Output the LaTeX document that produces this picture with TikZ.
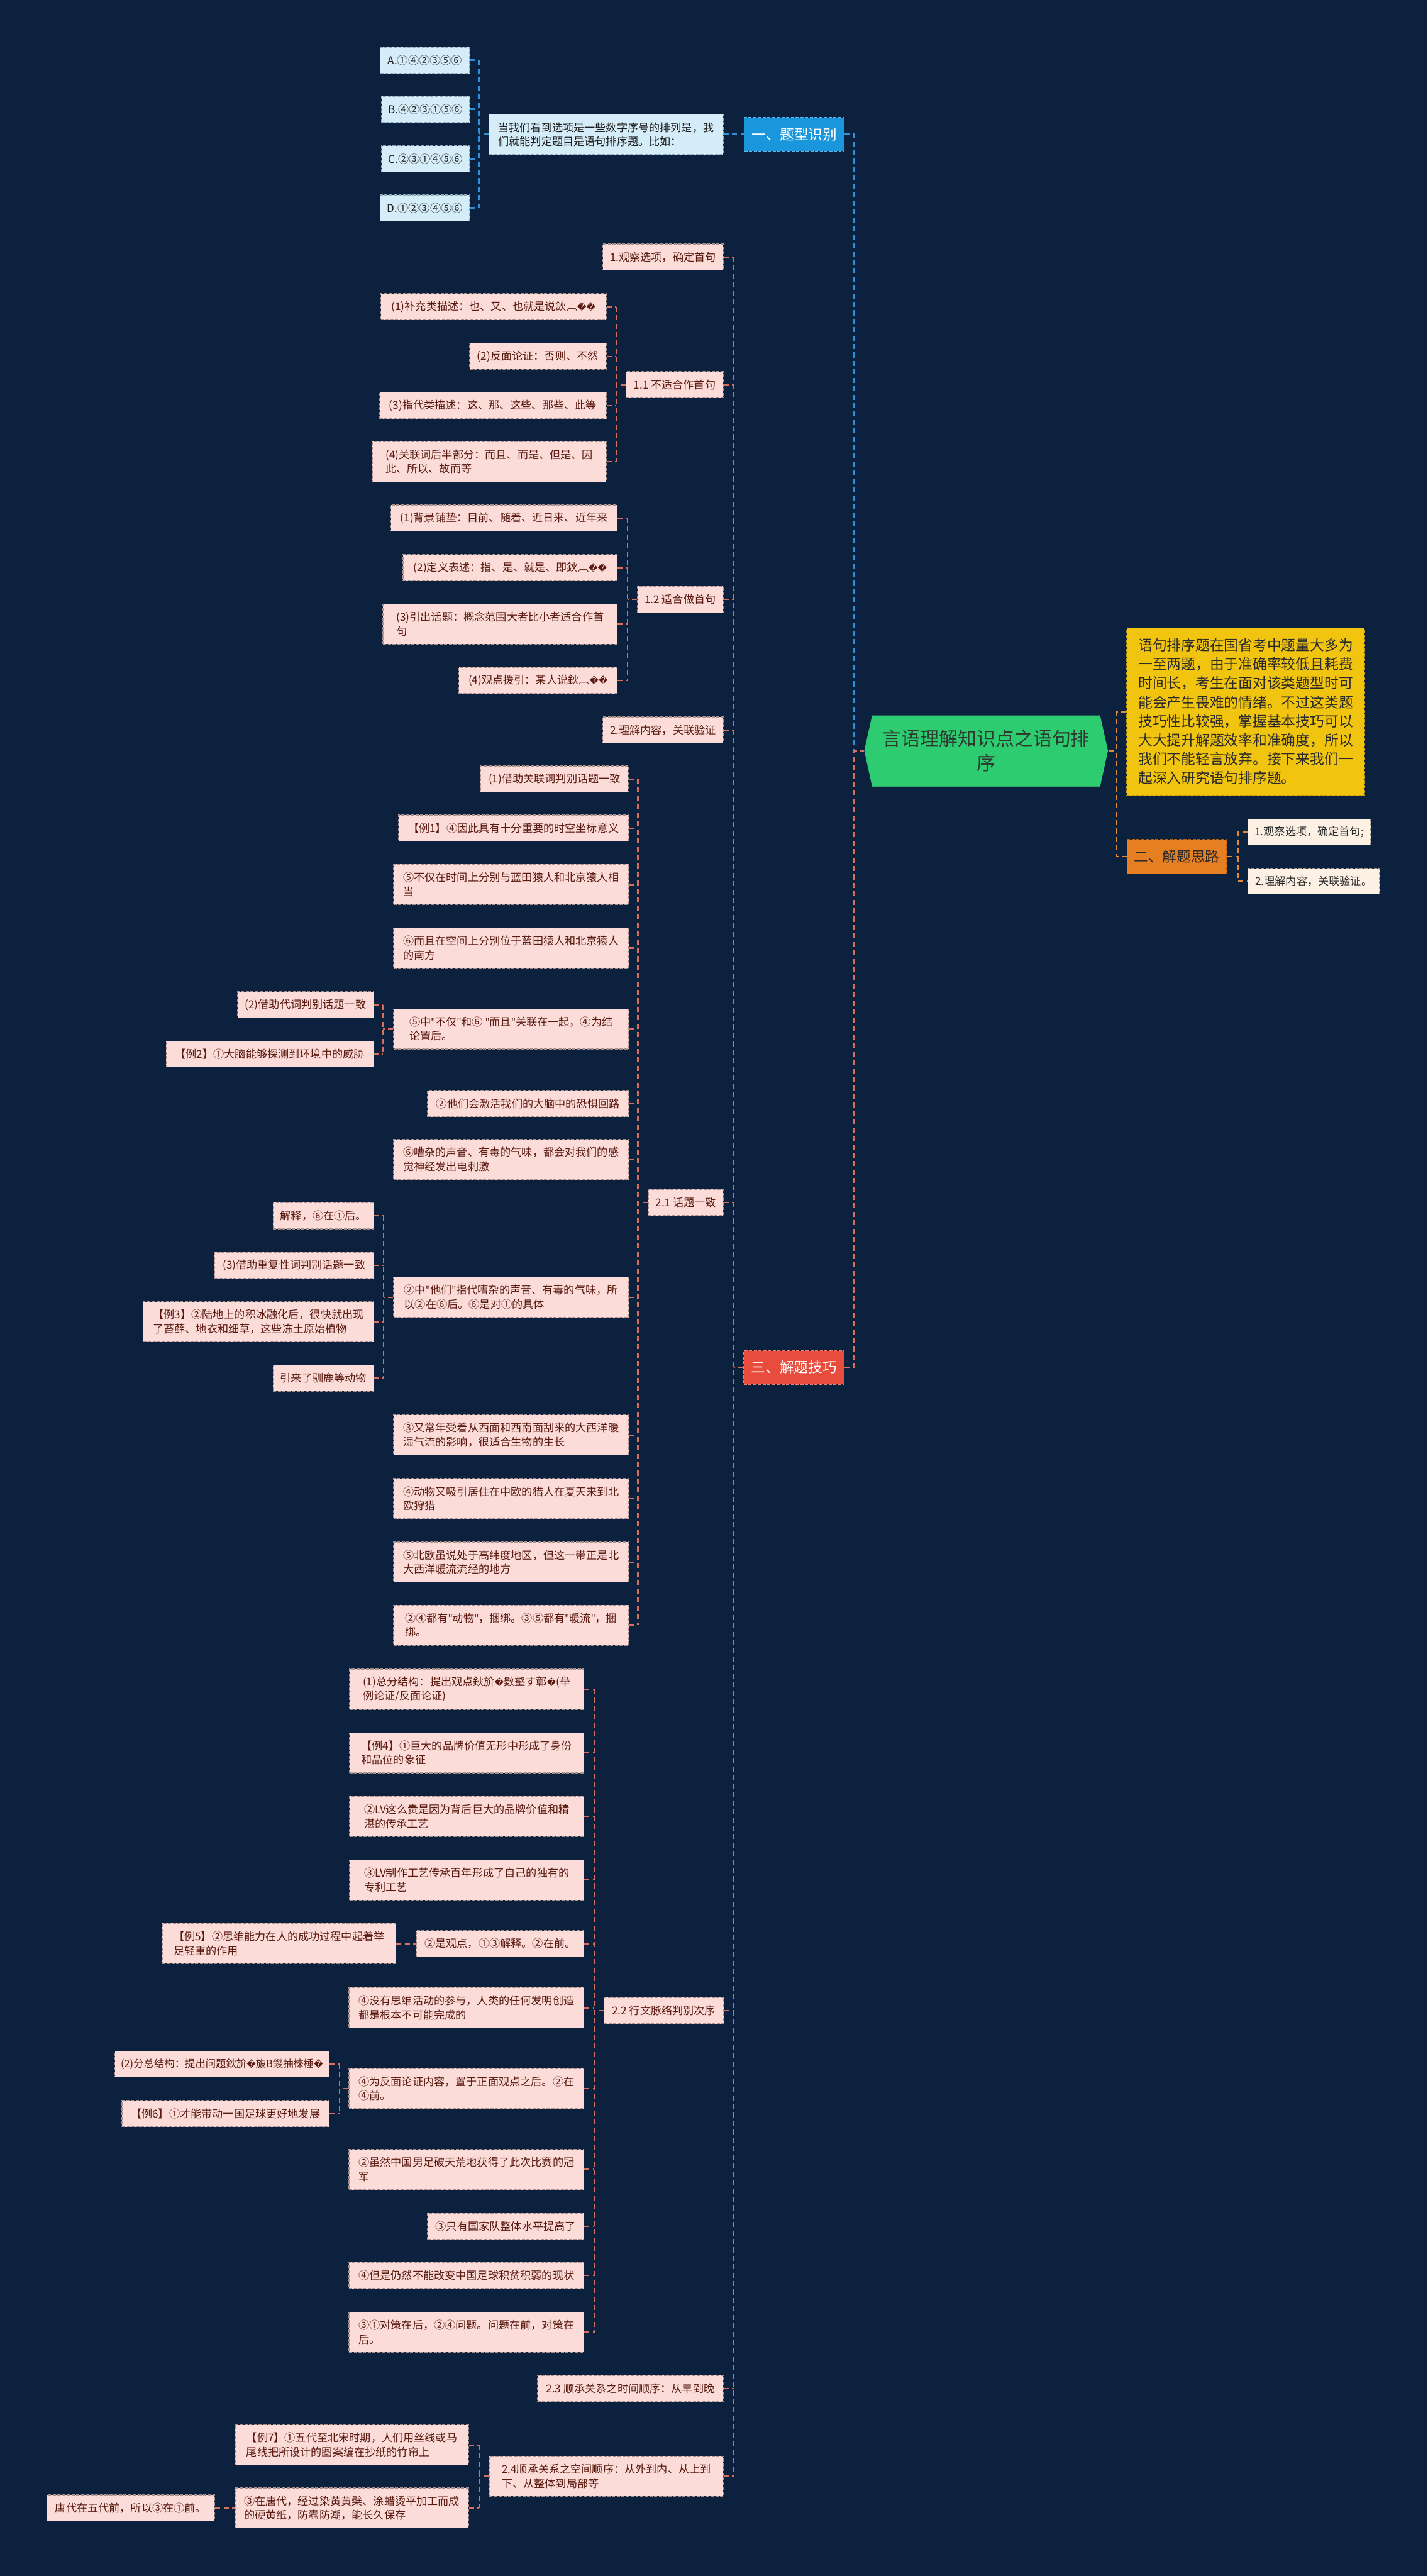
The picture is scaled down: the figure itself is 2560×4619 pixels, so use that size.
\documentclass[tikz,border=0pt]{standalone}
\usepackage{fontspec}
\setmainfont{Noto Sans CJK SC}
\newfontfamily\dvf{DejaVu Sans}
\newfontfamily\latf{Noto Sans}
\usetikzlibrary{calc}
\definecolor{bg}{HTML}{0C213E}
\definecolor{pkf}{HTML}{FBDCD8}
\definecolor{pkd}{HTML}{A8908C}
\definecolor{pkt}{HTML}{5A1A10}
\definecolor{lbf}{HTML}{D5EDF9}
\definecolor{lbd}{HTML}{8FA9B8}
\definecolor{lbt}{HTML}{1E1E1E}
\definecolor{blf}{HTML}{1A96DC}
\definecolor{bld}{HTML}{5DB8EC}
\definecolor{rdf}{HTML}{E74C3C}
\definecolor{rdd}{HTML}{F08070}
\definecolor{orf}{HTML}{E67E22}
\definecolor{ord}{HTML}{B86010}
\definecolor{ortx}{HTML}{2A2A2A}
\definecolor{ylf}{HTML}{F1C40F}
\definecolor{yld}{HTML}{C09A08}
\definecolor{ylt}{HTML}{2A2A2A}
\definecolor{crf}{HTML}{FDF1E6}
\definecolor{crd}{HTML}{A89C90}
\definecolor{crt}{HTML}{2A2A2A}
\definecolor{grf}{HTML}{2ECC71}
\definecolor{grd}{HTML}{27A85E}
\definecolor{grt}{HTML}{2C3A30}
\definecolor{lrc}{HTML}{D8705F}
\definecolor{lbc}{HTML}{2E90D8}
\definecolor{loc}{HTML}{E08A3A}
\newcommand\myfs{\fontsize{5.5pt}{7.2pt}\selectfont}
\newcommand\myfss{\fontsize{5.25pt}{7.2pt}\selectfont}
\newcommand\myft{\fontsize{7.25pt}{9pt}\selectfont}
\newcommand\myfy{\fontsize{7.3pt}{9.67pt}\selectfont}
\newcommand\myfr{\fontsize{9.6pt}{12.8pt}\selectfont}
\newcommand\rc{{\dvf\fontsize{4.5pt}{7pt}\selectfont\symbol{"FFFD}}}
\newcommand\qq{{\latf\symbol{34}}}
\newcommand\bx[7]{%
 \pgfmathsetmacro\bxw{(#4-#3)*0.2845276}%
 \pgfmathsetmacro\bxh{#6*0.2845276}%
 \node[#2, minimum width=\bxw pt, minimum height=\bxh pt] (#1) at ({(#3+#4)/2},#5) {#7};}
\newcommand\grp[6]{%
 \coordinate (sp-#2) at (#3,0);
 \draw[#1] (#5.east -| sp-#2) -- (#6.east -| sp-#2);
 \draw[#1] (#2.west) -- (#2.west -| sp-#2);
 \foreach \c in {#4} {\draw[#1] (\c.east) -- (\c.east -| sp-#2);}
}
\tikzset{
 nbox/.style={inner xsep=0pt, inner ysep=0pt, line width=0.4pt, dash pattern=on 1.6pt off 0.8pt},
 mypk/.style={nbox, fill=pkf, draw=pkd, text=pkt, font=\myfs, align=left},
 mylb/.style={nbox, fill=lbf, draw=lbd, text=lbt, font=\myfs, align=left},
 myttl/.style={nbox, font=\myft, align=center, text=white},
 myblt/.style={myttl, fill=blf, draw=bld},
 myrdt/.style={myttl, fill=rdf, draw=rdd},
 myort/.style={myttl, fill=orf, draw=ord, text=ortx},
 myyl/.style={nbox, fill=ylf, draw=yld, text=ylt, font=\myfy, align=left},
 mycr/.style={nbox, fill=crf, draw=crd, text=crt, font=\myfs, align=left},
 myroot/.style={inner xsep=0pt, inner ysep=0pt, text=grt, font=\myfr, align=center},
 mylnk/.style={line width=0.7pt, dash pattern=on 2.6pt off 1.7pt},
 mylr/.style={mylnk, draw=lrc},
 mylbl/.style={mylnk, draw=lbc, line width=0.9pt},
 mylo/.style={mylnk, draw=loc}
}
\begin{document}
\begin{tikzpicture}[x=0.01cm,y=-0.01cm]
\fill[bg] (0,0) rectangle (2560,4619);
\useasboundingbox (0,0) rectangle (2560,4619);
% root
\fill[grf] (1564,1283) -- (1973,1283) -- (1987,1346) -- (1973,1410) -- (1564,1410) -- (1550,1346) -- cycle;
\draw[grd, line width=1pt] (1564,1410) -- (1973,1410);
\bx{root}{myroot}{1550}{1987}{1346}{127}{言语理解知识点之语句排\\序}
% branch one
\bx{optA}{mylb}{682}{842}{108}{47}{A.①④②③⑤⑥}
\bx{optB}{mylb}{684}{842}{196}{47}{B.④②③①⑤⑥}
\bx{optC}{mylb}{684}{842}{285}{47}{C.②③①④⑤⑥}
\bx{optD}{mylb}{682}{842}{373}{47}{D.①②③④⑤⑥}
\bx{bt}{mylb}{877}{1297}{241}{72}{当我们看到选项是一些数字序号的排列是，我\\们就能判定题目是语句排序题。比如：}
\bx{t1}{myblt}{1335}{1514}{241}{60}{一、题型识别}
% right side
\bx{yl}{myyl}{2021}{2447}{1276}{300}{语句排序题在国省考中题量大多为\\一至两题，由于准确率较低且耗费\\时间长，考生在面对该类题型时可\\能会产生畏难的情绪。不过这类题\\技巧性比较强，掌握基本技巧可以\\大大提升解题效率和准确度，所以\\我们不能轻言放弃。接下来我们一\\起深入研究语句排序题。}
\bx{t2}{myort}{2021}{2200}{1536}{61}{二、解题思路}
\bx{c1}{mycr}{2238}{2458}{1492}{46}{1.观察选项，确定首句;}
\bx{c2}{mycr}{2238}{2474}{1580}{46}{2.理解内容，关联验证。}
% branch three
\bx{t3}{myrdt}{1334}{1514}{2452}{60}{三、解题技巧}
\bx{p1}{mypk}{1081}{1297}{461}{47}{1.观察选项，确定首句}
\bx{a1}{mypk}{683}{1087}{550}{47}{(1)补充类描述：也、又、也就是说鈥︹\rc\rc}
\bx{a2}{mypk}{842}{1087}{639}{47}{(2)反面论证：否则、不然}
\bx{n11}{mypk}{1123}{1297}{690}{47}{1.1 不适合作首句}
\bx{a3}{mypk}{681}{1087}{727}{47}{(3)指代类描述：这、那、这些、那些、此等}
\bx{a4}{mypk}{668}{1087}{828}{72}{(4)关联词后半部分：而且、而是、但是、因\\此、所以、故而等}
\bx{b1}{mypk}{701}{1107}{929}{47}{(1)背景铺垫：目前、随着、近日来、近年来}
\bx{b2}{mypk}{723}{1107}{1018}{47}{(2)定义表述：指、是、就是、即鈥︹\rc\rc}
\bx{n12}{mypk}{1143}{1297}{1075}{47}{1.2 适合做首句}
\bx{b3}{mypk}{687}{1107}{1119}{72}{(3)引出话题：概念范围大者比小者适合作首\\句}
\bx{b4}{mypk}{823}{1107}{1220}{47}{(4)观点援引：某人说鈥︹\rc\rc}
\bx{p2}{mypk}{1081}{1297}{1309}{47}{2.理解内容，关联验证}
% 2.1
\bx{d1}{mypk}{862}{1127}{1397}{47}{(1)借助关联词判别话题一致}
\bx{e1}{mypk}{715}{1127}{1485}{47}{【例1】④因此具有十分重要的时空坐标意义}
\bx{e2}{mypk}{706}{1127}{1586}{72}{⑤不仅在时间上分别与蓝田猿人和北京猿人相\\当}
\bx{e3}{mypk}{706}{1127}{1700}{72}{⑥而且在空间上分别位于蓝田猿人和北京猿人\\的南方}
\bx{e4}{mypk}{706}{1127}{1845}{72}{⑤中\qq 不仅\qq 和⑥~\qq 而且\qq 关联在一起，④为结\\论置后。}
\bx{f1}{mypk}{426}{670}{1802}{47}{(2)借助代词判别话题一致}
\bx{f2}{mypk}{298}{670}{1890}{47}{【例2】①大脑能够探测到环境中的威胁}
\bx{e5}{mypk}{767}{1127}{1979}{47}{②他们会激活我们的大脑中的恐惧回路}
\bx{e6}{mypk}{706}{1127}{2079}{72}{⑥嘈杂的声音、有毒的气味，都会对我们的感\\觉神经发出电刺激}
\bx{n21}{mypk}{1163}{1297}{2156}{47}{2.1 话题一致}
\bx{e7}{mypk}{706}{1127}{2326}{72}{②中\qq 他们\qq 指代嘈杂的声音、有毒的气味，所\\以②在⑥后。⑥是对①的具体}
\bx{g1}{mypk}{490}{670}{2180}{47}{解释，⑥在①后。}
\bx{g2}{mypk}{385}{670}{2269}{47}{(3)借助重复性词判别话题一致}
\bx{g3}{mypk}{257}{670}{2370}{72}{【例3】②陆地上的积冰融化后，很快就出现\\了苔藓、地衣和细草，这些冻土原始植物}
\bx{g4}{mypk}{490}{670}{2471}{47}{引来了驯鹿等动物}
\bx{e8}{mypk}{706}{1127}{2573}{72}{③又常年受着从西面和西南面刮来的大西洋暖\\湿气流的影响，很适合生物的生长}
\bx{e9}{mypk}{706}{1127}{2687}{72}{④动物又吸引居住在中欧的猎人在夏天来到北\\欧狩猎}
\bx{e10}{mypk}{706}{1127}{2801}{72}{⑤北欧虽说处于高纬度地区，但这一带正是北\\大西洋暖流流经的地方}
\bx{e11}{mypk}{706}{1127}{2914}{72}{②④都有\qq 动物\qq ，捆绑。③⑤都有\qq 暖流\qq ，捆\\绑。}
% 2.2
\bx{h1}{mypk}{627}{1047}{3029}{72}{(1)总分结构：提出观点鈥斺\rc 數壑す鄣\rc(举\\例论证/反面论证)}
\bx{h2}{mypk}{627}{1047}{3143}{72}{【例4】①巨大的品牌价值无形中形成了身份\\和品位的象征}
\bx{h3}{mypk}{627}{1047}{3257}{72}{②LV这么贵是因为背后巨大的品牌价值和精\\湛的传承工艺}
\bx{h4}{mypk}{627}{1047}{3371}{72}{③LV制作工艺传承百年形成了自己的独有的\\专利工艺}
\bx{h5}{mypk}{747}{1047}{3485}{47}{②是观点，①③解释。②在前。}
\bx{i1}{mypk}{291}{710}{3485}{72}{【例5】②思维能力在人的成功过程中起着举\\足轻重的作用}
\bx{h6}{mypk}{626}{1047}{3600}{72}{④没有思维活动的参与，人类的任何发明创造\\都是根本不可能完成的}
\bx{n22}{mypk}{1083}{1298}{3605}{47}{2.2 行文脉络判别次序}
\bx{h7}{mypk}{626}{1047}{3745}{72}{④为反面论证内容，置于正面观点之后。②在\\④前。}
\bx{j1}{mypk, font=\myfss}{206}{590}{3701}{47}{(2)分总结构：提出问题鈥斺\rc 旇В鍐抽棶棰\rc}
\bx{j2}{mypk}{219}{590}{3790}{47}{【例6】①才能带动一国足球更好地发展}
\bx{h8}{mypk}{626}{1047}{3890}{72}{②虽然中国男足破天荒地获得了此次比赛的冠\\军}
\bx{h9}{mypk}{767}{1047}{3992}{47}{③只有国家队整体水平提高了}
\bx{h10}{mypk}{626}{1047}{4080}{47}{④但是仍然不能改变中国足球积贫积弱的现状}
\bx{h11}{mypk}{626}{1047}{4182}{72}{③①对策在后，②④问题。问题在前，对策在\\后。}
% 2.3 2.4
\bx{n23}{mypk}{964}{1297}{4283}{47}{2.3 顺承关系之时间顺序：从早到晚}
\bx{n24}{mypk}{878}{1297}{4440}{72}{2.4顺承关系之空间顺序：从外到内、从上到\\下、从整体到局部等}
\bx{k1}{mypk}{422}{840}{4384}{72}{【例7】①五代至北宋时期，人们用丝线或马\\尾线把所设计的图案编在抄纸的竹帘上}
\bx{k2}{mypk}{422}{840}{4497}{72}{③在唐代，经过染黄黄檗、涂蜡烫平加工而成\\的硬黄纸，防蠹防潮，能长久保存}
\bx{l1}{mypk}{84}{385}{4497}{47}{唐代在五代前，所以③在①前。}
% connectors
\grp{mylbl}{bt}{859}{optA,optB,optC,optD}{optA}{optD}
\draw[mylbl] (bt.east) -- (t1.west);
\coordinate (spL) at (1532,0);
\draw[mylbl] (t1.east) -- (t1.east -| spL) -- (root.west -| spL);
\draw[mylr] (t3.east) -- (t3.east -| spL) -- (root.west -| spL) -- (root.west);
\coordinate (spR) at (2003,0);
\draw[mylo] (root.east) -- (root.east -| spR);
\draw[mylo] (yl.west) -- (yl.west -| spR) -- (t2.west -| spR) -- (t2.west);
\coordinate (spT) at (2220,0);
\draw[mylo] (t2.east) -- (t2.east -| spT);
\draw[mylo] (c1.west) -- (c1.west -| spT) -- (c2.west -| spT) -- (c2.west);
\grp{mylr}{t3}{1316}{p1,n11,n12,p2,n21,n22,n23,n24}{p1}{n24}
\grp{mylr}{n11}{1105}{a1,a2,a3,a4}{a1}{a4}
\grp{mylr}{n12}{1125}{b1,b2,b3,b4}{b1}{b4}
\grp{mylr}{n21}{1144}{d1,e1,e2,e3,e4,e5,e6,e7,e8,e9,e10,e11}{d1}{e11}
\grp{mylr}{e4}{687}{f1,f2}{f1}{f2}
\grp{mylr}{e7}{688}{g1,g2,g3,g4}{g1}{g4}
\grp{mylr}{n22}{1066}{h1,h2,h3,h4,h5,h6,h7,h8,h9,h10,h11}{h1}{h11}
\draw[mylr] (i1.east) -- (h5.west);
\grp{mylr}{h7}{609}{j1,j2}{j1}{j2}
\grp{mylr}{n24}{859}{k1,k2}{k1}{k2}
\draw[mylr] (l1.east) -- (k2.west);
\end{tikzpicture}
\end{document}
